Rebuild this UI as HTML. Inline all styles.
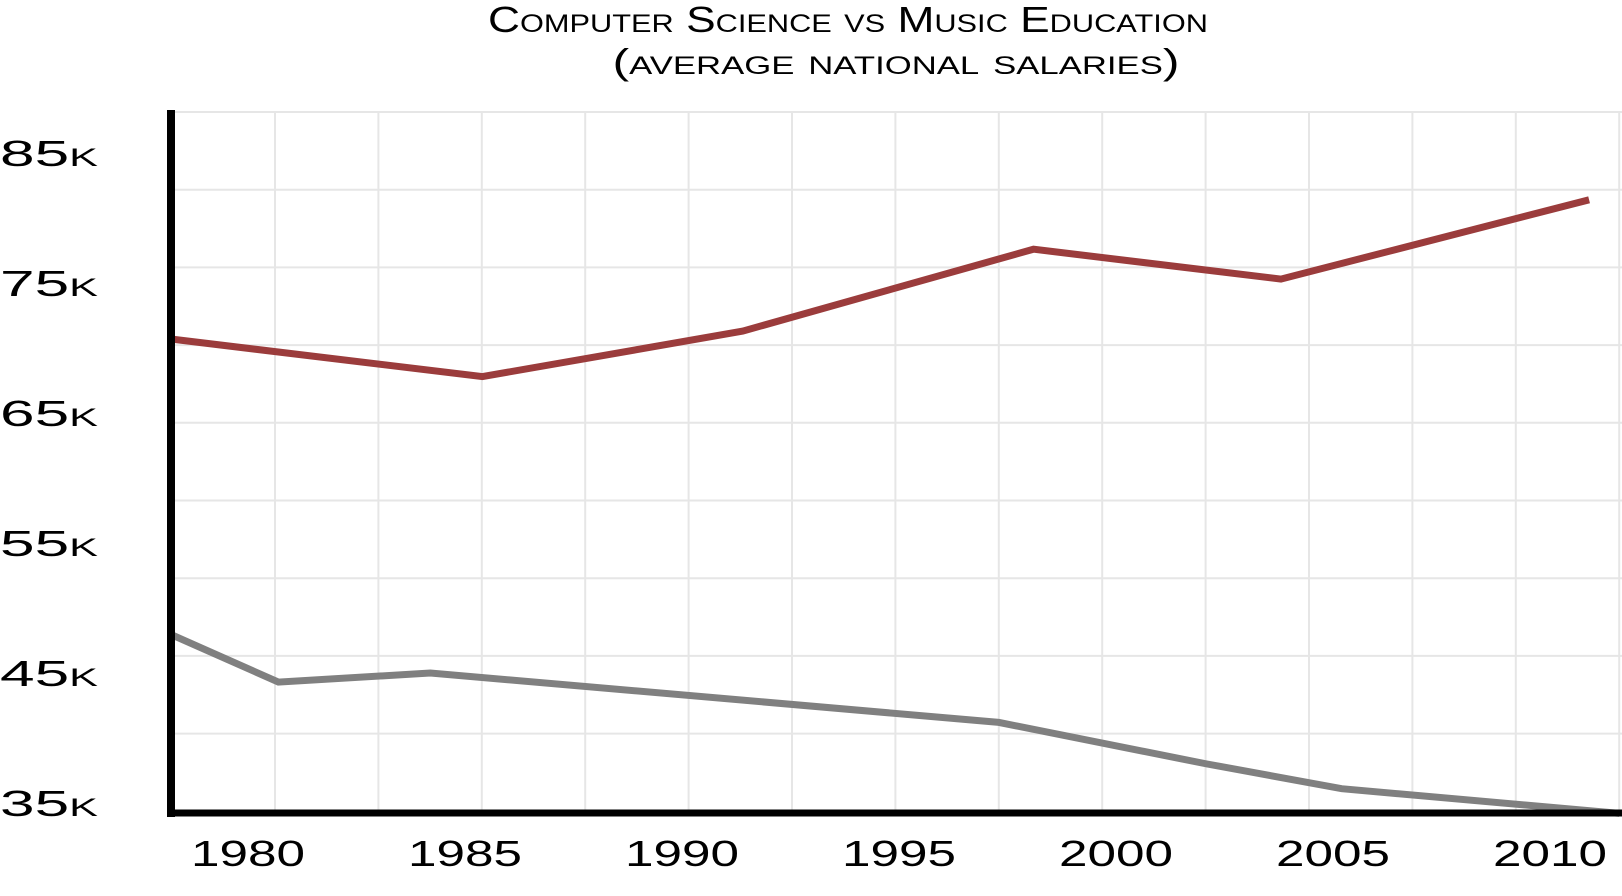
<!DOCTYPE html>
<html><head><meta charset="utf-8"><style>
html,body{margin:0;padding:0;background:#fff;}
svg{display:block;font-family:"Liberation Sans",sans-serif;}
</style></head><body>
<svg id="chart" width="1622" height="896" viewBox="0 0 1622 896" xmlns="http://www.w3.org/2000/svg">
<g>
<text x="848" y="32" text-anchor="middle" font-size="36" style="font-variant:small-caps" textLength="720" lengthAdjust="spacingAndGlyphs">Computer Science vs Music Education</text>
<text x="896" y="74" text-anchor="middle" font-size="36" style="font-variant:small-caps" textLength="567" lengthAdjust="spacingAndGlyphs">(average national salaries)</text>
</g>
<g id="grid"></g>
<g id="series"></g>
<g id="axes"></g>
<g id="labels"></g>
</svg>
<script>
const yTicks = [35, 45, 55, 65, 75, 85];
const yTickLabels = ["35k", "45k", "55k", "65k", "75k", "85k"];
const xTicks = [1980, 1985, 1990, 1995, 2000, 2005, 2010];
const xTickLabels = ["1980", "1985", "1990", "1995", "2000", "2005", "2010"];
const csYears = [1978.2, 1985.4, 1991.4, 1998.1, 2003.8, 2010.9];
const csValues = [70.7, 67.8, 71.3, 77.6, 75.3, 81.4];
const musicYears = [1978.2, 1980.7, 1984.2, 1997.3, 2002.1, 2005.2, 2011.6];
const musicValues = [48.0, 44.3, 45.0, 41.2, 38.0, 36.1, 34.2];

const NS = "http://www.w3.org/2000/svg";
function xs(yr){ return 248 + (yr - 1980) * 43.4; }
function ys(v){ return 803 - (v - 35) * 13; }
function mk(tag, attrs, parent){
  const e = document.createElementNS(NS, tag);
  for (const k in attrs) e.setAttribute(k, attrs[k]);
  parent.appendChild(e); return e;
}
const grid = document.getElementById('grid');
for (let i = 0; i < 14; i++) {
  const x = 275 + i * 103.4;
  const l = mk('line', {x1:x, y1:112, x2:x, y2:813, stroke:'#e6e6e6', 'stroke-width':2}, grid);
  
  
}
for (let i = 0; i < 9; i++) {
  const y = 112 + i * 77.7;
  const l = mk('line', {x1:171, y1:y, x2:1622, y2:y, stroke:'#e6e6e6', 'stroke-width':2}, grid);
  
  
}
const series = document.getElementById('series');
function drawLine(yrs, vals, color, name){
  const pts = yrs.map((y, i) => xs(y).toFixed(1) + ',' + ys(vals[i]).toFixed(1)).join(' ');
  const p = mk('polyline', {points:pts, fill:'none', stroke:color, 'stroke-width':7, 'stroke-linejoin':'miter'}, series);
  
  
}
drawLine(csYears, csValues, '#9b3c3c', 'computer-science-line');
drawLine(musicYears, musicValues, '#808080', 'music-education-line');
const axes = document.getElementById('axes');
const ya = mk('line', {x1:171, y1:110, x2:171, y2:817, stroke:'#000', 'stroke-width':8}, axes);


const xa = mk('line', {x1:167, y1:813, x2:1622, y2:813, stroke:'#000', 'stroke-width':7}, axes);


const labels = document.getElementById('labels');
yTicks.forEach((v, i) => {
  const t = mk('text', {x:0, y:ys(v) + 13, 'font-size':36, textLength:98, lengthAdjust:'spacingAndGlyphs', style:'font-variant:small-caps'}, labels);
  t.textContent = yTickLabels[i];
  
  
});
xTicks.forEach((v, i) => {
  const t = mk('text', {x:xs(v), y:866, 'font-size':36, 'text-anchor':'middle', textLength:114, lengthAdjust:'spacingAndGlyphs'}, labels);
  t.textContent = xTickLabels[i];
  
  
});
</script>
</body></html>
